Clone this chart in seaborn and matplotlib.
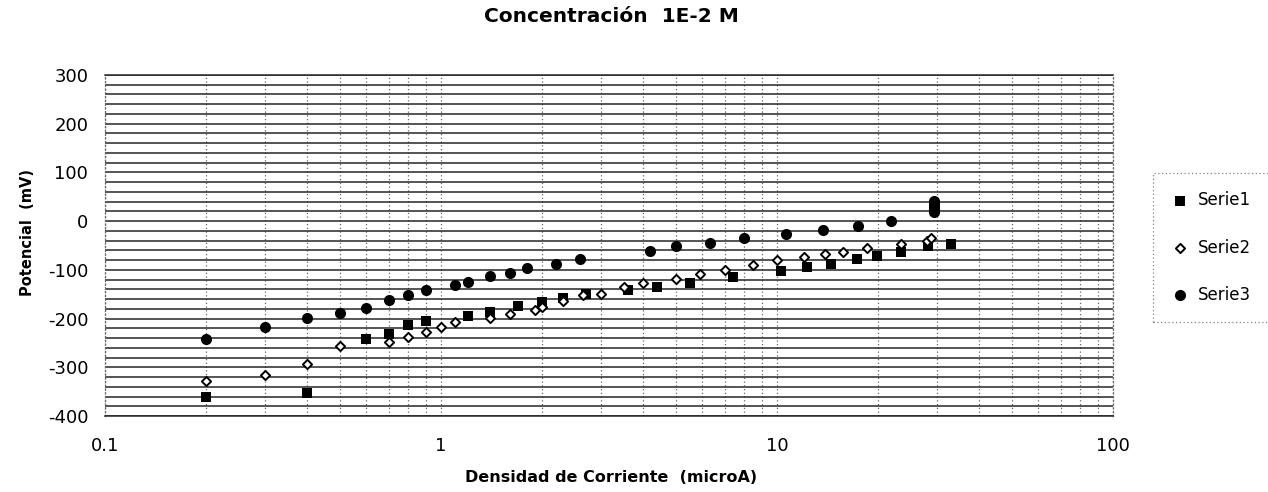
import matplotlib
matplotlib.use("Agg")
import matplotlib.pyplot as plt
from matplotlib.ticker import FixedLocator, MultipleLocator, NullFormatter
import numpy as np
import pandas as pd
import seaborn as sns

# Current density (microA) and potential (mV) for each series
serie1_x = [0.2, 0.4, 0.6, 0.7, 0.8, 0.9, 1.2, 1.4, 1.7, 2.0, 2.3, 2.7, 3.6, 4.4,
            5.5, 7.4, 10.3, 12.3, 14.5, 17.3, 19.9, 23.4, 28.2, 32.9]
serie1_y = [-362, -352, -241, -232, -213, -204, -195, -186, -175, -165, -158, -150,
            -142, -135, -126, -115, -102, -94, -87, -77, -72, -63, -52, -46]

serie2_x = [0.2, 0.3, 0.4, 0.5, 0.7, 0.8, 0.9, 1.0, 1.1, 1.4, 1.6, 1.9, 2.0, 2.3,
            2.65, 3.0, 3.5, 4.0, 5.0, 5.9, 7.0, 8.5, 10.0, 12.0, 13.9, 15.7, 18.5,
            23.4, 27.9, 28.8]
serie2_y = [-328, -316, -294, -256, -248, -237, -227, -218, -208, -198, -191, -182,
            -176, -163, -152, -150, -136, -128, -118, -109, -100, -91, -80, -74, -67,
            -64, -56, -47, -40, -34]

serie3_x = [0.2, 0.3, 0.4, 0.5, 0.6, 0.7, 0.8, 0.9, 1.1, 1.2, 1.4, 1.6, 1.8, 2.2,
            2.6, 4.2, 5.0, 6.3, 8.0, 10.6, 13.7, 17.4, 21.8, 29.3, 29.3, 29.3, 29.3,
            29.3]
serie3_y = [-242, -217, -198, -188, -179, -161, -152, -141, -131, -124, -113, -106,
            -96, -87, -78, -61, -52, -44, -35, -27, -18, -9, 0, 18, 24, 30, 36, 42]

series_names = ["Serie1", "Serie2", "Serie3"]
x_ticks = [0.1, 1, 10, 100]
x_ticklabels = ["0.1", "1", "10", "100"]
y_ticks = [300, 200, 100, 0, -100, -200, -300, -400]

sns.set_theme(style="white")
plt.rcParams["font.family"] = ["DejaVu Sans"]
plt.rcParams["axes.unicode_minus"] = False
plt.rcParams["text.color"] = "black"

W, H = 1268, 492
fig = plt.figure(figsize=(W / 100, H / 100), dpi=100)
ax = fig.add_axes([105 / W, 76 / H, 1008 / W, 341 / H])

df1 = pd.DataFrame({"x": serie1_x, "y": serie1_y})
df2 = pd.DataFrame({"x": serie2_x, "y": serie2_y})
df3 = pd.DataFrame({"x": serie3_x, "y": serie3_y})

sns.scatterplot(data=df1, x="x", y="y", ax=ax, marker="s", s=48, color="black",
                edgecolor="black", linewidth=0, label=series_names[0], zorder=4)
sns.scatterplot(data=df2, x="x", y="y", ax=ax, marker="D", s=22, color="white",
                edgecolor="black", linewidth=1.4, label=series_names[1], zorder=5)
sns.scatterplot(data=df3, x="x", y="y", ax=ax, marker="o", s=64, color="black",
                edgecolor="black", linewidth=0, label=series_names[2], zorder=3)

ax.set_xscale("log")
ax.set_xlim(0.1, 100)
ax.set_ylim(-400, 300)

ax.xaxis.set_major_locator(FixedLocator(x_ticks))
ax.set_xticklabels(x_ticklabels)
ax.xaxis.set_minor_locator(FixedLocator(
    [m * 10.0 ** e for e in (-1, 0, 1) for m in range(2, 10)]))
ax.xaxis.set_minor_formatter(NullFormatter())
ax.yaxis.set_major_locator(FixedLocator(y_ticks))
ax.yaxis.set_minor_locator(MultipleLocator(20))

# horizontal rules every 20 mV, dotted verticals on the log decades
ax.grid(which="both", axis="y", color="#262626", linewidth=1.1, linestyle="-")
ax.grid(which="both", axis="x", color="#666666", linewidth=0.9, linestyle=(0, (1, 2)))
ax.set_axisbelow(True)

for side in ("top", "bottom"):
    ax.spines[side].set_visible(True)
    ax.spines[side].set_color("#262626")
    ax.spines[side].set_linewidth(1.1)
for side in ("left", "right"):
    ax.spines[side].set_visible(True)
    ax.spines[side].set_color("#666666")
    ax.spines[side].set_linewidth(0.9)
    ax.spines[side].set_linestyle((0, (1, 2)))

ax.tick_params(axis="both", which="both", length=0)
ax.tick_params(axis="y", pad=12, labelsize=13, labelcolor="black")
ax.tick_params(axis="x", pad=15, labelsize=13, labelcolor="black")
ax.set_xlabel("")
ax.set_ylabel("")

fig.text(611 / W, 1 - 17 / H, "Concentración  1E-2 M", ha="center", va="center",
         fontsize=14.5, fontweight="bold", color="black")
fig.text(611 / W, 1 - 477 / H, "Densidad de Corriente  (microA)", ha="center",
         va="center", fontsize=11.5, fontweight="bold", color="black")
fig.text(27 / W, 1 - 232 / H, "Potencial  (mV)", ha="center", va="center",
         rotation=90, fontsize=10.5, fontweight="bold", color="black")

handles, labels = ax.get_legend_handles_labels()
ax.get_legend().remove()
leg = fig.legend(handles, labels, loc="upper left",
                 bbox_to_anchor=(1153 / W, 1 - 173 / H), frameon=True,
                 fontsize=12, labelspacing=1.75, handlelength=1.0,
                 handletextpad=0.6, borderpad=1.1, borderaxespad=0,
                 fancybox=False, labelcolor="black")
frame = leg.get_frame()
frame.set_edgecolor("#666666")
frame.set_linestyle((0, (1, 2)))
frame.set_linewidth(0.9)

fig.savefig("out.png", dpi=100)
